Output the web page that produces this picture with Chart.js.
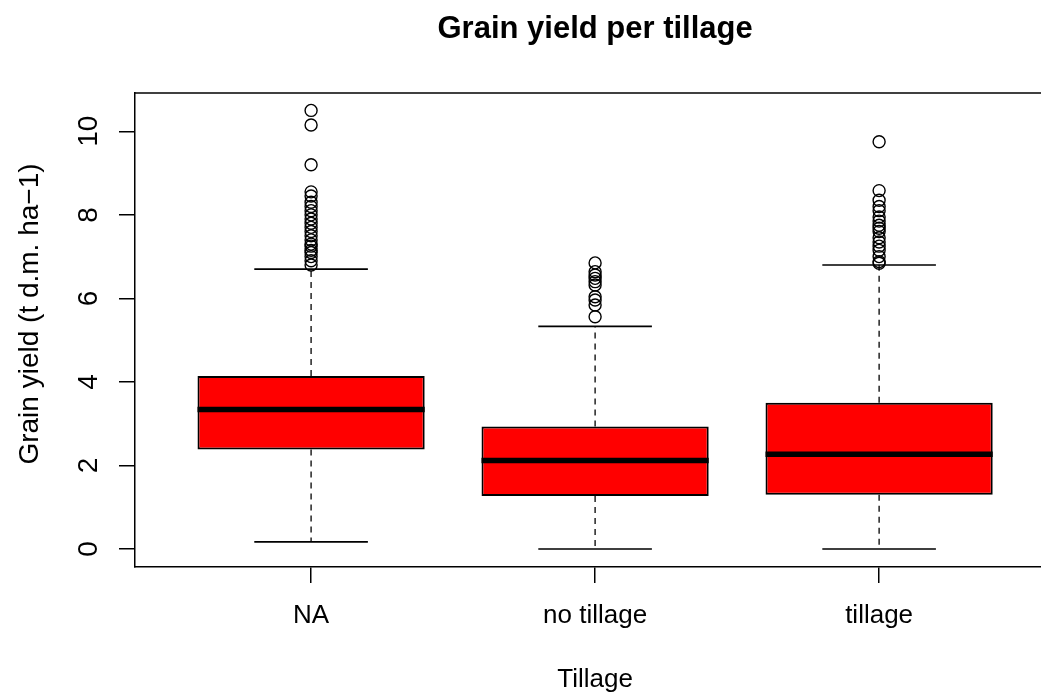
<!DOCTYPE html>
<html>
<head>
<meta charset="utf-8">
<script src="https://cdn.jsdelivr.net/npm/chart.js@4/dist/chart.umd.min.js"></script>
<style>
  body { margin: 0; background: #fff; }
  #wrap { width: 1041px; height: 693px; }
</style>
</head>
<body>
<div id="wrap"><canvas id="chart" width="1041" height="693"></canvas></div>
<script>
    const TITLE = 'Grain yield per tillage';
    const X_TITLE = 'Tillage';
    const Y_TITLE = 'Grain yield (t d.m. ha\u22121)';

    const categories = ['NA', 'no tillage', 'tillage'];
    const lowerWhisker = [0.17, 0.0, 0.0];
    const q1 = [2.38, 1.27, 1.30];
    const medians = [3.34, 2.12, 2.27];
    const q3 = [4.14, 2.93, 3.50];
    const upperWhisker = [6.70, 5.33, 6.80];
    const outliersNA = [10.5, 10.15, 9.2, 8.55, 8.45, 8.3, 8.2, 8.1, 8.0, 7.9, 7.8, 7.7, 7.6, 7.5, 7.4, 7.3, 7.25, 7.15, 7.1, 7.0, 6.9, 6.8];
    const outliersNoTillage = [6.85, 6.64, 6.56, 6.48, 6.4, 6.32, 6.04, 5.96, 5.84, 5.56];
    const outliersTillage = [9.75, 8.58, 8.35, 8.2, 8.1, 7.95, 7.85, 7.75, 7.68, 7.6, 7.45, 7.35, 7.25, 7.15, 7.0, 6.88, 6.84];
    const yTicks = [0, 2, 4, 6, 8, 10];

    const BOX_HALF = 0.4;
    const CAP_HALF = 0.2;
    const FONT = '"Liberation Sans", Arial, Helvetica, sans-serif';

    const boxData = categories.map((c, i) => ({ x: i + 1, y: [q1[i], q3[i]] }));

    const whiskerData = [];
    const capData = [];
    const medianData = [];
    categories.forEach((c, i) => {
        const x = i + 1;
        whiskerData.push({ x: x, y: q3[i] }, { x: x, y: upperWhisker[i] }, { x: x, y: null });
        whiskerData.push({ x: x, y: q1[i] }, { x: x, y: lowerWhisker[i] }, { x: x, y: null });
        capData.push({ x: x - CAP_HALF, y: upperWhisker[i] }, { x: x + CAP_HALF, y: upperWhisker[i] }, { x: x, y: null });
        capData.push({ x: x - CAP_HALF, y: lowerWhisker[i] }, { x: x + CAP_HALF, y: lowerWhisker[i] }, { x: x, y: null });
        medianData.push({ x: x - BOX_HALF, y: medians[i] }, { x: x + BOX_HALF, y: medians[i] }, { x: x, y: null });
    });

    const outlierData = [];
    [outliersNA, outliersNoTillage, outliersTillage].forEach((list, i) => {
        list.forEach(v => outlierData.push({ x: i + 1, y: v }));
    });

    const extras = {
        id: 'extras',
        afterDraw(chart) {
            const { ctx, chartArea, scales } = chart;
            const xs = scales.x;
            const ys = scales.y;
            const mid = xs.getPixelForValue(2);
            ctx.save();
            ctx.strokeStyle = '#000';
            ctx.lineWidth = 1.5;
            ctx.beginPath();
            ctx.moveTo(chartArea.left, chartArea.top);
            ctx.lineTo(chartArea.right, chartArea.top);
            ctx.stroke();

            ctx.fillStyle = '#000';
            ctx.textAlign = 'center';
            ctx.textBaseline = 'alphabetic';
            ctx.font = 'bold 31px ' + FONT;
            ctx.fillText(TITLE, mid, 38);

            ctx.font = '26px ' + FONT;
            categories.forEach((c, i) => ctx.fillText(c, xs.getPixelForValue(i + 1), 623));
            ctx.fillText(X_TITLE, mid, 687);

            ctx.font = '28px ' + FONT;
            yTicks.forEach(v => {
                ctx.save();
                ctx.translate(97, ys.getPixelForValue(v));
                ctx.rotate(-Math.PI / 2);
                ctx.fillText(String(v), 0, 0);
                ctx.restore();
            });
            ctx.save();
            ctx.translate(38, 314);
            ctx.rotate(-Math.PI / 2);
            ctx.fillText(Y_TITLE, 0, 0);
            ctx.restore();
            ctx.restore();
        }
    };

    const ctx = document.getElementById('chart').getContext('2d');
    const chart = new Chart(ctx, {
        type: 'bar',
        data: {
            datasets: [
                {
                    type: 'bar',
                    data: boxData,
                    backgroundColor: '#FF0000',
                    borderColor: '#000',
                    borderWidth: 2,
                    borderSkipped: false,
                    barPercentage: 0.8,
                    categoryPercentage: 1,
                    order: 2
                },
                {
                    type: 'line',
                    data: whiskerData,
                    borderColor: '#000',
                    borderWidth: 1.3,
                    borderDash: [6, 5],
                    pointRadius: 0,
                    spanGaps: false,
                    order: 3
                },
                {
                    type: 'line',
                    data: capData,
                    borderColor: '#000',
                    borderWidth: 1.6,
                    pointRadius: 0,
                    spanGaps: false,
                    order: 3
                },
                {
                    type: 'line',
                    data: medianData,
                    borderColor: '#000',
                    borderWidth: 5.5,
                    borderCapStyle: 'butt',
                    pointRadius: 0,
                    spanGaps: false,
                    order: 1
                },
                {
                    type: 'scatter',
                    data: outlierData,
                    pointStyle: 'circle',
                    pointRadius: 6,
                    borderColor: '#000',
                    borderWidth: 1.4,
                    backgroundColor: 'rgba(0,0,0,0)',
                    order: 0
                }
            ]
        },
        options: {
            responsive: false,
            animation: false,
            layout: { autoPadding: false, padding: { left: 119, top: 93, right: 0, bottom: 110 } },
            plugins: {
                legend: { display: false },
                tooltip: { enabled: false },
                title: { display: false }
            },
            scales: {
                x: {
                    type: 'linear',
                    min: 0.38,
                    max: 3.57,
                    offset: false,
                    afterBuildTicks: axis => { axis.ticks = categories.map((c, i) => ({ value: i + 1 })); },
                    ticks: { display: false },
                    grid: { offset: false, drawOnChartArea: false, tickLength: 16, color: '#000', lineWidth: 1.5 },
                    border: { display: true, color: '#000', width: 1.5 }
                },
                y: {
                    type: 'linear',
                    min: -0.431,
                    max: 10.917,
                    afterBuildTicks: axis => { axis.ticks = yTicks.map(v => ({ value: v })); },
                    ticks: { display: false },
                    grid: { drawOnChartArea: false, tickLength: 16, color: '#000', lineWidth: 1.5 },
                    border: { display: true, color: '#000', width: 1.5 }
                }
            }
        },
        plugins: [extras]
    });
</script>
</body>
</html>
